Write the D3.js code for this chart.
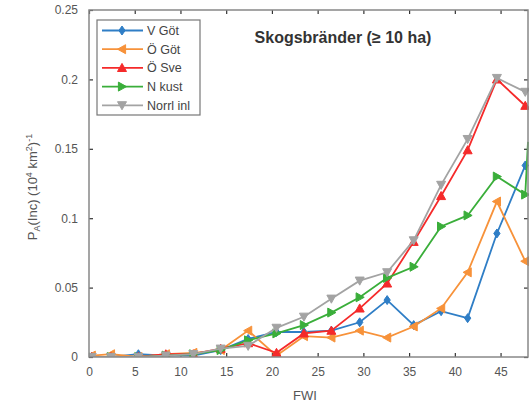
<!DOCTYPE html>
<html><head><meta charset="utf-8">
<script src="https://cdn.jsdelivr.net/npm/d3@7"></script>
<style>body{margin:0;background:#fff}svg{display:block}text{font-family:"Liberation Sans",Arial,sans-serif}</style>
</head><body><svg id="c" width="532" height="403"></svg>
<script>
const fwi = [0.3, 2.4, 5.4, 8.4, 11.4, 14.4, 17.4, 20.5, 23.5, 26.5, 29.6, 32.6, 35.5, 38.5, 41.4, 44.6, 47.7, 48.0];
const vGot   = [0, 0, 0.002, 0.001, 0.001, 0.005, 0.013, 0.018, 0.018, 0.019, 0.025, 0.041, 0.023, 0.033, 0.028, 0.089, 0.138];
const oGot   = [0.001, 0.002, 0, 0.002, 0.003, 0.005, 0.019, 0.001, 0.015, 0.014, 0.019, 0.014, 0.022, 0.035, 0.061, 0.112, 0.069];
const oSve   = [0, 0, 0, 0.002, 0.002, 0.006, 0.010, 0.003, 0.017, 0.019, 0.035, 0.053, 0.083, 0.116, 0.149, 0.200, 0.181];
const nKust  = [0, 0, 0, 0.001, 0.002, 0.005, 0.012, 0.017, 0.023, 0.032, 0.043, 0.057, 0.065, 0.094, 0.102, 0.130, 0.117, 0.155];
const norrl  = [0, 0, 0, 0.001, 0.002, 0.006, 0.008, 0.021, 0.029, 0.042, 0.055, 0.061, 0.084, 0.124, 0.157, 0.201, 0.191];
const seriesNames = ["V Göt", "Ö Göt", "Ö Sve", "N kust", "Norrl inl"];
const xTicks = [0, 5, 10, 15, 20, 25, 30, 35, 40, 45];
const yTicks = [0, 0.05, 0.1, 0.15, 0.2, 0.25];

const series = [
  {name: seriesNames[0], vals: vGot,  color: "#2f7ec6", shape: "diamond"},
  {name: seriesNames[1], vals: oGot,  color: "#f7923a", shape: "left"},
  {name: seriesNames[2], vals: oSve,  color: "#f52a2a", shape: "up"},
  {name: seriesNames[3], vals: nKust, color: "#3aae3a", shape: "right"},
  {name: seriesNames[4], vals: norrl, color: "#a3a3a3", shape: "down"}
];

const svg = d3.select("#c");
const L = 89, R = 528, T = 10, B = 357;
const x = d3.scaleLinear().domain([0, 48]).range([L, R]);
const y = d3.scaleLinear().domain([0, 0.25]).range([B, T]);

function markerPath(shape, s) {
  switch (shape) {
    case "diamond": return `M0,${-s}L${s*0.7},0L0,${s}L${-s*0.7},0Z`;
    case "up": return `M0,${-s}L${s},${s*0.8}L${-s},${s*0.8}Z`;
    case "down": return `M0,${s}L${s},${-s*0.8}L${-s},${-s*0.8}Z`;
    case "left": return `M${-s},0L${s*0.8},${-s}L${s*0.8},${s}Z`;
    case "right": return `M${s},0L${-s*0.8},${-s}L${-s*0.8},${s}Z`;
  }
}

svg.append("defs").append("clipPath").attr("id","clip")
  .append("rect").attr("x", L).attr("y", T).attr("width", R - L + 1).attr("height", B - T);

const gx = svg.append("g").attr("transform", `translate(0,${B})`)
  .call(d3.axisBottom(x).tickValues(xTicks).tickSize(-4).tickPadding(10).tickFormat(d3.format("d")));
const gxt = svg.append("g").attr("transform", `translate(0,${T})`)
  .call(d3.axisTop(x).tickValues(xTicks).tickSize(-4).tickFormat(""));
const gy = svg.append("g").attr("transform", `translate(${L},0)`)
  .call(d3.axisLeft(y).tickValues(yTicks).tickSize(-4).tickPadding(11).tickFormat(d => String(d)));
const gyr = svg.append("g").attr("transform", `translate(${R},0)`)
  .call(d3.axisRight(y).tickValues(yTicks).tickSize(-4).tickFormat(""));
[gx, gxt, gy, gyr].forEach(g => {
  g.select(".domain").remove();
  g.selectAll(".tick line").attr("stroke", "#333").attr("stroke-width", 1.2);
  g.selectAll("text").attr("fill", "#555").attr("font-size", 12);
});

const plot = svg.append("g").attr("clip-path", "url(#clip)");
const line = d3.line().x((d, i) => x(fwi[i])).y(d => y(d));
series.forEach(s => {
  plot.append("path").datum(s.vals).attr("d", line)
    .attr("fill", "none").attr("stroke", s.color).attr("stroke-width", 1.8);
  plot.selectAll(null).data(s.vals.filter((d, i) => i < 17)).enter().append("path")
    .attr("transform", (d, i) => `translate(${x(fwi[i])},${y(d)})`)
    .attr("d", markerPath(s.shape, 4.5))
    .attr("fill", s.color).attr("stroke", s.color).attr("stroke-width", 1);
});

svg.append("rect").attr("x", L).attr("y", T).attr("width", R - L).attr("height", B - T)
  .attr("fill", "none").attr("stroke", "#888").attr("stroke-width", 1.5);

svg.append("text").attr("x", 343).attr("y", 43).attr("text-anchor", "middle")
  .attr("font-size", 16).attr("font-weight", "bold").attr("fill", "#333")
  .text("Skogsbränder (≥ 10 ha)");

const lg = svg.append("g");
lg.append("rect").attr("x", 97).attr("y", 20).attr("width", 103).attr("height", 95)
  .attr("fill", "#fff").attr("stroke", "#777").attr("stroke-width", 1.2);
series.forEach((s, i) => {
  const yy = 30.5 + i * 18.7;
  lg.append("line").attr("x1", 102).attr("x2", 143).attr("y1", yy).attr("y2", yy)
    .attr("stroke", s.color).attr("stroke-width", 1.8);
  lg.append("path").attr("transform", `translate(122,${yy})`).attr("d", markerPath(s.shape, 4.5))
    .attr("fill", s.color).attr("stroke", s.color);
  lg.append("text").attr("x", 147).attr("y", yy + 4.5).attr("font-size", 12.5).attr("fill", "#444").text(s.name);
});

svg.append("text").attr("x", 305).attr("y", 400).attr("text-anchor", "middle")
  .attr("font-size", 13).attr("fill", "#555").text("FWI");
const yl = svg.append("text").attr("transform", "translate(37,187) rotate(-90)")
  .attr("text-anchor", "middle").attr("font-size", 13).attr("fill", "#555");
yl.append("tspan").text("P");
yl.append("tspan").attr("font-size", 9).attr("dy", 3).text("A");
yl.append("tspan").attr("dy", -3).text("(Inc) (10");
yl.append("tspan").attr("font-size", 9).attr("dy", -5).text("4");
yl.append("tspan").attr("dy", 5).text(" km");
yl.append("tspan").attr("font-size", 9).attr("dy", -5).text("2");
yl.append("tspan").attr("dy", 5).text(")");
yl.append("tspan").attr("font-size", 9).attr("dy", -5).text("-1");
</script></body></html>
